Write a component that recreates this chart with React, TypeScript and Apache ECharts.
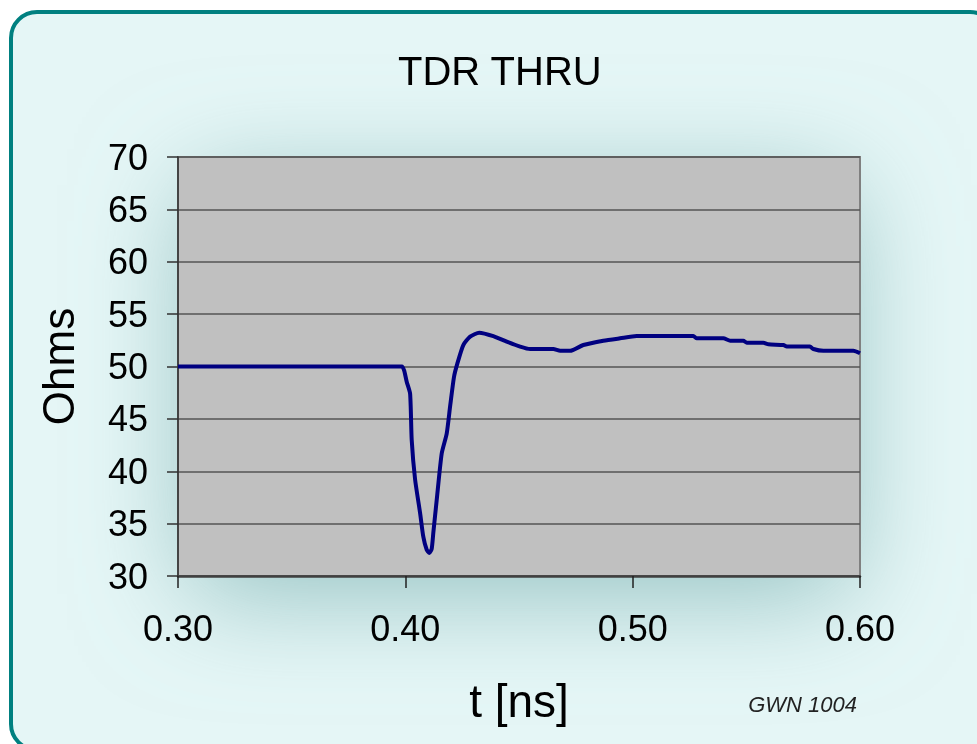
import React, { useEffect, useRef } from "react";
import * as echarts from "echarts";

const titleText = "TDR THRU";
const xAxisName = "t [ns]";
const yAxisName = "Ohms";
const noteText = "GWN 1004";

const tValues = [
  0.3, 0.3985, 0.3995, 0.4006, 0.4021, 0.4028, 0.4043, 0.4065, 0.4079, 0.4094,
  0.4106, 0.4116, 0.4123, 0.4138, 0.416, 0.4182, 0.4197, 0.4214, 0.4229, 0.4255,
  0.4285, 0.4325, 0.4387, 0.4446, 0.4505, 0.4549, 0.4651, 0.4681, 0.4725, 0.4783,
  0.4871, 0.4945, 0.5018, 0.5267, 0.5282, 0.5399, 0.5429, 0.5487, 0.5502, 0.5575,
  0.5597, 0.5663, 0.5678, 0.578, 0.5795, 0.5839, 0.5971, 0.6,
];
const ohmValues = [
  50.0, 50.0, 49.6, 48.55, 47.4, 43.0, 39.2, 36.0, 33.75, 32.5,
  32.2, 32.6, 34.1, 37.25, 41.7, 43.6, 46.2, 49.0, 50.3, 52.05,
  52.85, 53.23, 52.9, 52.37, 51.9, 51.67, 51.67, 51.5, 51.5, 52.05,
  52.46, 52.69, 52.9, 52.9, 52.69, 52.69, 52.46, 52.46, 52.27, 52.27,
  52.12, 52.05, 51.9, 51.9, 51.67, 51.5, 51.5, 51.26,
];

const xMin = 0.3;
const xMax = 0.6;
const xStep = 0.1;
const yMin = 30;
const yMax = 70;
const yStep = 5;

const FONT = "'Liberation Sans', Arial, sans-serif";

export default function App() {
  const ref = useRef<HTMLDivElement>(null);

  useEffect(() => {
    if (!ref.current) return;
    const chart = echarts.init(ref.current, null, { renderer: "svg" });
    const gridL = 178;
    const gridT = 157;
    const gridR = 977 - 860;
    const gridB = 744 - 576;
    chart.setOption({
      animation: false,
      backgroundColor: "transparent",
      textStyle: { fontFamily: FONT },
      title: {
        text: titleText,
        left: 398,
        top: 51,
        padding: 0,
        textStyle: { fontFamily: FONT, fontSize: 40, fontWeight: "normal", color: "#000" },
      },
      graphic: {
        elements: [
          {
            type: "rect",
            z: -20,
            silent: true,
            shape: { x: 11, y: 12, width: 985, height: 738, r: 26 },
            style: { fill: "#e5f6f6", stroke: "#008080", lineWidth: 4 },
          },
          {
            type: "rect",
            z: -10,
            silent: true,
            shape: { x: gridL + 10, y: gridT + 10, width: 860 - gridL - 20, height: 576 - gridT - 10 },
            style: {
              fill: "#c0c0c0",
              shadowBlur: 110,
              shadowColor: "rgba(120,175,175,0.75)",
              shadowOffsetX: 0,
              shadowOffsetY: 18,
            },
          },
          {
            type: "text",
            z: 10,
            silent: true,
            x: 857,
            y: 704,
            style: {
              text: noteText,
              fontFamily: FONT,
              fontSize: 22,
              fontStyle: "italic",
              fill: "#222",
              align: "right",
              verticalAlign: "middle",
            },
          },
        ],
      },
      grid: {
        left: gridL,
        top: gridT,
        right: gridR,
        bottom: gridB,
        show: true,
        backgroundColor: "#c0c0c0",
        borderColor: "#808080",
        borderWidth: 2,
      },
      xAxis: {
        type: "value",
        min: xMin,
        max: xMax,
        interval: xStep,
        name: xAxisName,
        nameLocation: "middle",
        nameGap: 102,
        nameTextStyle: { fontFamily: FONT, fontSize: 46, color: "#000" },
        axisLine: { show: true, lineStyle: { color: "#404040", width: 2.5 } },
        axisTick: { show: true, length: 12, lineStyle: { color: "#202020", width: 1.5 } },
        axisLabel: {
          margin: 34,
          fontFamily: FONT,
          fontSize: 36,
          color: "#000",
          formatter: (v: number) => v.toFixed(2),
        },
        splitLine: { show: false },
      },
      yAxis: {
        type: "value",
        min: yMin,
        max: yMax,
        interval: yStep,
        name: yAxisName,
        nameLocation: "middle",
        nameRotate: 90,
        nameGap: 98,
        nameTextStyle: { fontFamily: FONT, fontSize: 44, color: "#000" },
        axisLine: { show: true, lineStyle: { color: "#303030", width: 1.5 } },
        axisTick: { show: true, length: 11, lineStyle: { color: "#303030", width: 1.5 } },
        axisLabel: { margin: 30, fontFamily: FONT, fontSize: 36, color: "#000" },
        splitLine: { show: true, lineStyle: { color: "#555555", width: 1.5 } },
      },
      series: [
        {
          type: "line",
          data: tValues.map((t, i) => [t, ohmValues[i]]),
          showSymbol: false,
          smooth: 0.2,
          lineStyle: { color: "#000080", width: 4 },
          z: 5,
        },
      ],
    });
    return () => chart.dispose();
  }, []);

  return (
    <div
      ref={ref}
      style={{ position: "fixed", left: 0, top: 0, width: 977, height: 744 }}
    />
  );
}
